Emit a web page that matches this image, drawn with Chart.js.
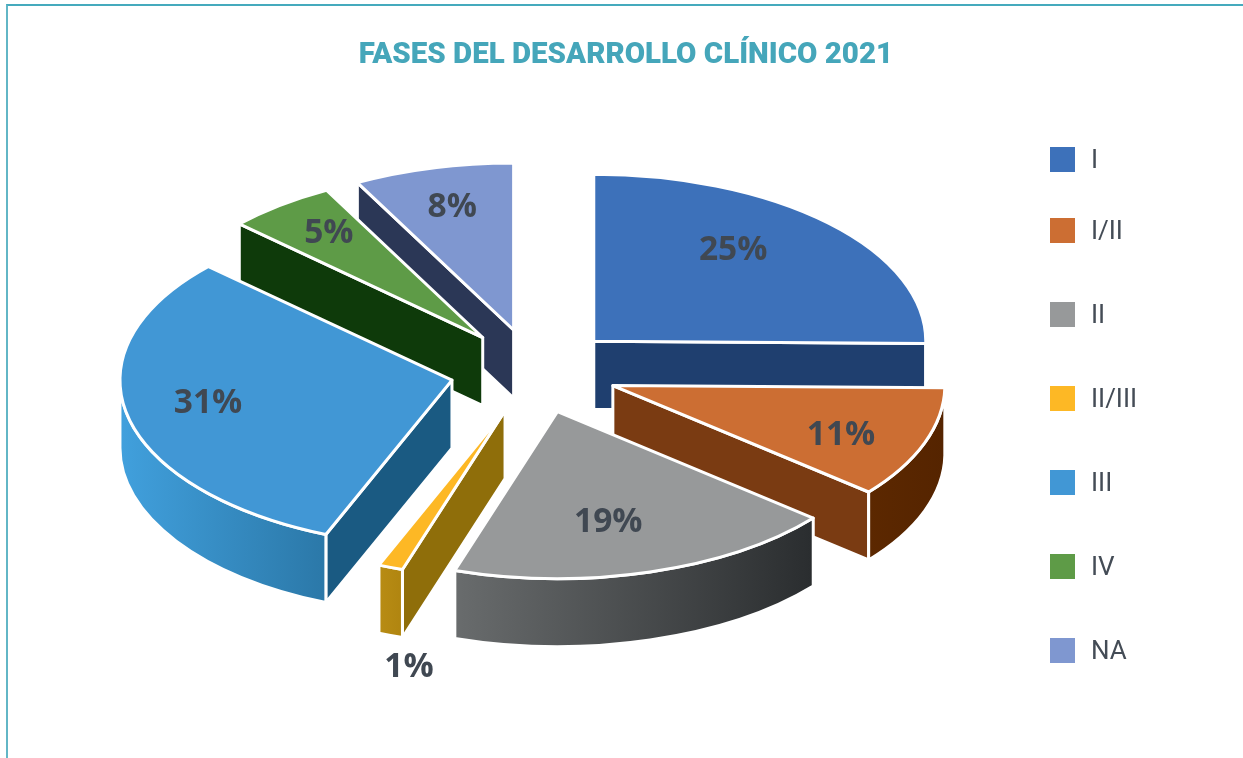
<!DOCTYPE html>
<html lang="es">
<head>
<meta charset="utf-8">
<title>Fases del desarrollo clínico 2021</title>
<script src="https://cdn.jsdelivr.net/npm/chart.js@4"></script>
<style>
html,body{margin:0;padding:0;background:#fff;overflow:hidden;width:1243px;height:758px}
#frame{position:absolute;left:6px;top:4px;width:1300px;height:800px;border-top:2px solid #45aabd;border-left:2px solid #62b6c6}
canvas{position:absolute;left:0;top:0}
</style>
</head>
<body>
<div id="frame"></div>
<canvas id="c" width="1243" height="758"></canvas>
<script>
// Data
const chartTitle = 'FASES DEL DESARROLLO CLÍNICO 2021';
const categories = ['I','I/II','II','II/III','III','IV','NA'];
const shares = [25.2,10.8,19,1.2,30.7,5.3,7.8];

// Colours
const topColors  = ['#3D71BA','#CC6E33','#97999A','#FDB825','#4197D5','#5E9B47','#7F97D0'];
const wallColors = ['#1F3F6F','#7A3B12','#3a3d3f','#8F6E0A','#1A5A82','#0E3A0A','#2B3756'];
const rimLeft    = ['#1F3F6F','#5C2800','#696C6D','#B88C14','#41A0DD','#0E3A0A','#2B3756'];
const rimRight   = ['#1F3F6F','#552400','#2A2D2F','#B08510','#2B78A8','#0E3A0A','#2B3756'];
const textColor  = '#404852';

// Layout of the fake perspective
const view = {cx:534, cy:371, radius:332, squash:0.503, depth:68, explode:84, edge:3};
const labelFraction = 0.7;
const labelNudge = [[-26,-9],[10,10],[-14,-1],[-16,147],[-17,-2],[-12,-11],[-5,-9]];
const legendSwatch = {x:1050, size:25};
const legendTextX = 1091;
const legendRows = [159.5,230.5,314.5,398.5,482.5,566.5,650.5];

function apexOf(arc){
  const m=(arc.startAngle+arc.endAngle)/2;
  return {x:view.cx+Math.cos(m)*view.explode, y:view.cy+Math.sin(m)*view.explode*view.squash};
}
function rimPoint(apex,a){
  return {x:apex.x+Math.cos(a)*view.radius, y:apex.y+Math.sin(a)*view.radius*view.squash};
}
function strokeEdge(ctx){
  ctx.lineWidth=view.edge; ctx.strokeStyle='#fff'; ctx.lineJoin='round'; ctx.stroke();
}
function drawRadialWall(ctx,apex,a,color){
  const p=rimPoint(apex,a);
  ctx.beginPath();
  ctx.moveTo(apex.x,apex.y); ctx.lineTo(p.x,p.y);
  ctx.lineTo(p.x,p.y+view.depth); ctx.lineTo(apex.x,apex.y+view.depth);
  ctx.closePath();
  ctx.fillStyle=color; ctx.fill(); strokeEdge(ctx);
}
function drawRim(ctx,apex,start,end,i){
  const ry=view.radius*view.squash;
  ctx.beginPath();
  ctx.ellipse(apex.x,apex.y,view.radius,ry,0,start,end);
  ctx.ellipse(apex.x,apex.y+view.depth,view.radius,ry,0,end,start,true);
  ctx.closePath();
  const xs=[rimPoint(apex,start).x,rimPoint(apex,end).x];
  const g=ctx.createLinearGradient(Math.min(...xs,(start<Math.PI&&end>Math.PI)?apex.x-view.radius:Infinity),0,Math.max(...xs),0);
  g.addColorStop(0,rimLeft[i]); g.addColorStop(1,rimRight[i]);
  ctx.fillStyle=g; ctx.fill(); strokeEdge(ctx);
}
function drawSlice(ctx,arc,i){
  const apex=apexOf(arc), s=arc.startAngle, e=arc.endAngle;
  if(Math.cos(s)<-1e-6) drawRadialWall(ctx,apex,s,wallColors[i]);
  if(Math.cos(e)> 1e-6) drawRadialWall(ctx,apex,e,wallColors[i]);
  // Outer wall: only the part of the rim on the near half of the ellipse
  const from=Math.max(s,0), to=Math.min(e,Math.PI);
  if(to>from) drawRim(ctx,apex,from,to,i);
  // Top face: the library's own arc element, squashed into the ellipse
  ctx.save();
  ctx.translate(apex.x,apex.y);
  ctx.scale(1,view.squash);
  ctx.translate(-arc.x,-arc.y);
  arc.draw(ctx);
  ctx.restore();
  ctx.beginPath();
  ctx.moveTo(apex.x,apex.y);
  ctx.ellipse(apex.x,apex.y,view.radius,view.radius*view.squash,0,s,e);
  ctx.closePath();
  strokeEdge(ctx);
}

const pie3d = {
  id:'pie3d',
  beforeDatasetDraw(){ return false; },
  afterDatasetsDraw(chart){
    const ctx=chart.ctx, arcs=chart.getDatasetMeta(0).data;
    const order=arcs.map((a,i)=>i).sort((p,q)=>
      Math.sin((arcs[p].startAngle+arcs[p].endAngle)/2)-Math.sin((arcs[q].startAngle+arcs[q].endAngle)/2));
    ctx.save();
    order.forEach(i=>drawSlice(ctx,arcs[i],i));
    // Percentage labels
    ctx.font='bold 33.5px "Open Sans"';
    ctx.fillStyle=textColor; ctx.textAlign='center'; ctx.textBaseline='middle';
    arcs.forEach((arc,i)=>{
      const apex=apexOf(arc), m=(arc.startAngle+arc.endAngle)/2;
      const p={x:apex.x+Math.cos(m)*view.radius*labelFraction,y:apex.y+Math.sin(m)*view.radius*labelFraction*view.squash};
      ctx.fillText(Math.round(shares[i])+'%',p.x+labelNudge[i][0],p.y+labelNudge[i][1]);
    });
    // Legend
    ctx.font='26px Roboto'; ctx.textAlign='left'; ctx.fillStyle='#444c56';
    categories.forEach((c,i)=>{
      ctx.save();
      ctx.fillStyle=topColors[i];
      ctx.fillRect(legendSwatch.x,legendRows[i]-legendSwatch.size/2,legendSwatch.size,legendSwatch.size);
      ctx.restore();
      ctx.fillText(c,legendTextX,legendRows[i]+2);
    });
    ctx.restore();
  }
};

new Chart(document.getElementById('c'),{
  type:'pie',
  data:{labels:categories,datasets:[{data:shares,backgroundColor:topColors,borderWidth:0}]},
  options:{
    responsive:false,animation:false,
    radius:view.radius,
    layout:{padding:{left:9}},
    plugins:{
      legend:{display:false},tooltip:{enabled:false},
      title:{display:true,text:chartTitle,color:'#45A6BA',font:{family:'Roboto',weight:'900',size:29.5,lineHeight:1.2},padding:{top:38,bottom:10}}
    }
  },
  plugins:[pie3d]
});
</script>
</body>
</html>
